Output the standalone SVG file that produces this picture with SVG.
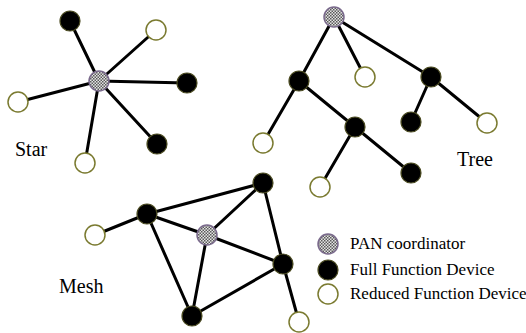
<svg xmlns="http://www.w3.org/2000/svg" width="526" height="333" viewBox="0 0 526 333">
  <defs>
    <!-- fine checker hatch used for coordinator nodes -->
    <pattern id="hatch" width="3" height="3" patternUnits="userSpaceOnUse">
      <rect width="3" height="3" fill="#e4e4e4"/>
      <rect width="1.5" height="1.5" fill="#5a5a5a"/>
      <rect x="1.5" y="1.5" width="1.5" height="1.5" fill="#5a5a5a"/>
    </pattern>
  </defs>
  <style>
    .edge { stroke: #000; stroke-width: 3; stroke-linecap: round; fill: none; }
    .pan { fill: url(#hatch); stroke: #7a6a8c; stroke-width: 1.5; }
    .ffd { fill: #000; stroke: #4a4a20; stroke-width: 1.2; }
    .rfd { fill: #fff; stroke: #7a7a30; stroke-width: 1.5; }
    text { fill: #000; }
  </style>
  <rect width="526" height="333" fill="#fff"/>

  <!-- connectors -->
  <g id="connectors" class="edge">
    <!-- star -->
    <line x1="99" y1="81" x2="70" y2="21"/>
    <line x1="99" y1="81" x2="156" y2="30"/>
    <line x1="99" y1="81" x2="187" y2="83"/>
    <line x1="99" y1="81" x2="18" y2="102"/>
    <line x1="99" y1="81" x2="157" y2="144"/>
    <line x1="99" y1="81" x2="85" y2="163"/>
    <!-- tree -->
    <line x1="334" y1="17" x2="299" y2="81"/>
    <line x1="334" y1="17" x2="365" y2="77"/>
    <line x1="334" y1="17" x2="431" y2="77"/>
    <line x1="299" y1="81" x2="263" y2="143"/>
    <line x1="299" y1="81" x2="355" y2="127"/>
    <line x1="355" y1="127" x2="320" y2="187"/>
    <line x1="355" y1="127" x2="411" y2="173"/>
    <line x1="431" y1="77" x2="411" y2="122"/>
    <line x1="431" y1="77" x2="487" y2="123"/>
    <!-- mesh -->
    <line x1="147" y1="214" x2="95" y2="235"/>
    <line x1="147" y1="214" x2="263" y2="183"/>
    <line x1="147" y1="214" x2="207" y2="235"/>
    <line x1="147" y1="214" x2="192" y2="316"/>
    <line x1="207" y1="235" x2="263" y2="183"/>
    <line x1="207" y1="235" x2="283" y2="264"/>
    <line x1="207" y1="235" x2="192" y2="316"/>
    <line x1="263" y1="183" x2="283" y2="264"/>
    <line x1="283" y1="264" x2="192" y2="316"/>
    <line x1="283" y1="264" x2="299" y2="322"/>
  </g>

  <!-- star nodes -->
  <g id="star-pan"><circle class="pan" cx="99" cy="81" r="10"/></g>
  <g id="star-f1"><circle class="ffd" cx="70" cy="21" r="10"/></g>
  <g id="star-r1"><circle class="rfd" cx="156" cy="30" r="10"/></g>
  <g id="star-f2"><circle class="ffd" cx="187" cy="83" r="10"/></g>
  <g id="star-r2"><circle class="rfd" cx="18" cy="102" r="10"/></g>
  <g id="star-f3"><circle class="ffd" cx="157" cy="144" r="10"/></g>
  <g id="star-r3"><circle class="rfd" cx="85" cy="163" r="10"/></g>

  <!-- tree nodes -->
  <g id="tree-pan"><circle class="pan" cx="334" cy="17" r="10"/></g>
  <g id="tree-f1"><circle class="ffd" cx="299" cy="81" r="10"/></g>
  <g id="tree-r1"><circle class="rfd" cx="365" cy="77" r="10"/></g>
  <g id="tree-f2"><circle class="ffd" cx="431" cy="77" r="10"/></g>
  <g id="tree-r2"><circle class="rfd" cx="263" cy="143" r="10"/></g>
  <g id="tree-f3"><circle class="ffd" cx="355" cy="127" r="10"/></g>
  <g id="tree-f4"><circle class="ffd" cx="411" cy="122" r="10"/></g>
  <g id="tree-r3"><circle class="rfd" cx="487" cy="123" r="10"/></g>
  <g id="tree-r4"><circle class="rfd" cx="320" cy="187" r="10"/></g>
  <g id="tree-f5"><circle class="ffd" cx="411" cy="173" r="10"/></g>

  <!-- mesh nodes -->
  <g id="mesh-f1"><circle class="ffd" cx="263" cy="183" r="10"/></g>
  <g id="mesh-f2"><circle class="ffd" cx="147" cy="214" r="10"/></g>
  <g id="mesh-r1"><circle class="rfd" cx="95" cy="235" r="10"/></g>
  <g id="mesh-pan"><circle class="pan" cx="207" cy="235" r="10"/></g>
  <g id="mesh-f3"><circle class="ffd" cx="283" cy="264" r="10"/></g>
  <g id="mesh-f4"><circle class="ffd" cx="192" cy="316" r="10"/></g>
  <g id="mesh-r2"><circle class="rfd" cx="299" cy="322" r="10"/></g>

  <!-- topology names -->
  <text x="15" y="156" font-family="'Liberation Serif', serif" font-size="20">Star</text>
  <text x="457" y="166" font-family="'Liberation Serif', serif" font-size="20">Tree</text>
  <text x="59" y="293" font-family="'Liberation Serif', serif" font-size="20">Mesh</text>

  <!-- legend -->
  <g id="legend">
    <circle class="pan" cx="328" cy="244" r="10"/>
    <circle class="ffd" cx="328" cy="270" r="10"/>
    <circle class="rfd" cx="328" cy="294" r="10"/>
    <text x="350" y="249" font-family="'Liberation Serif', serif" font-size="17">PAN coordinator</text>
    <text x="350" y="275" font-family="'Liberation Serif', serif" font-size="17">Full Function Device</text>
    <text x="350" y="299" font-family="'Liberation Serif', serif" font-size="17">Reduced Function Device</text>
  </g>
</svg>
